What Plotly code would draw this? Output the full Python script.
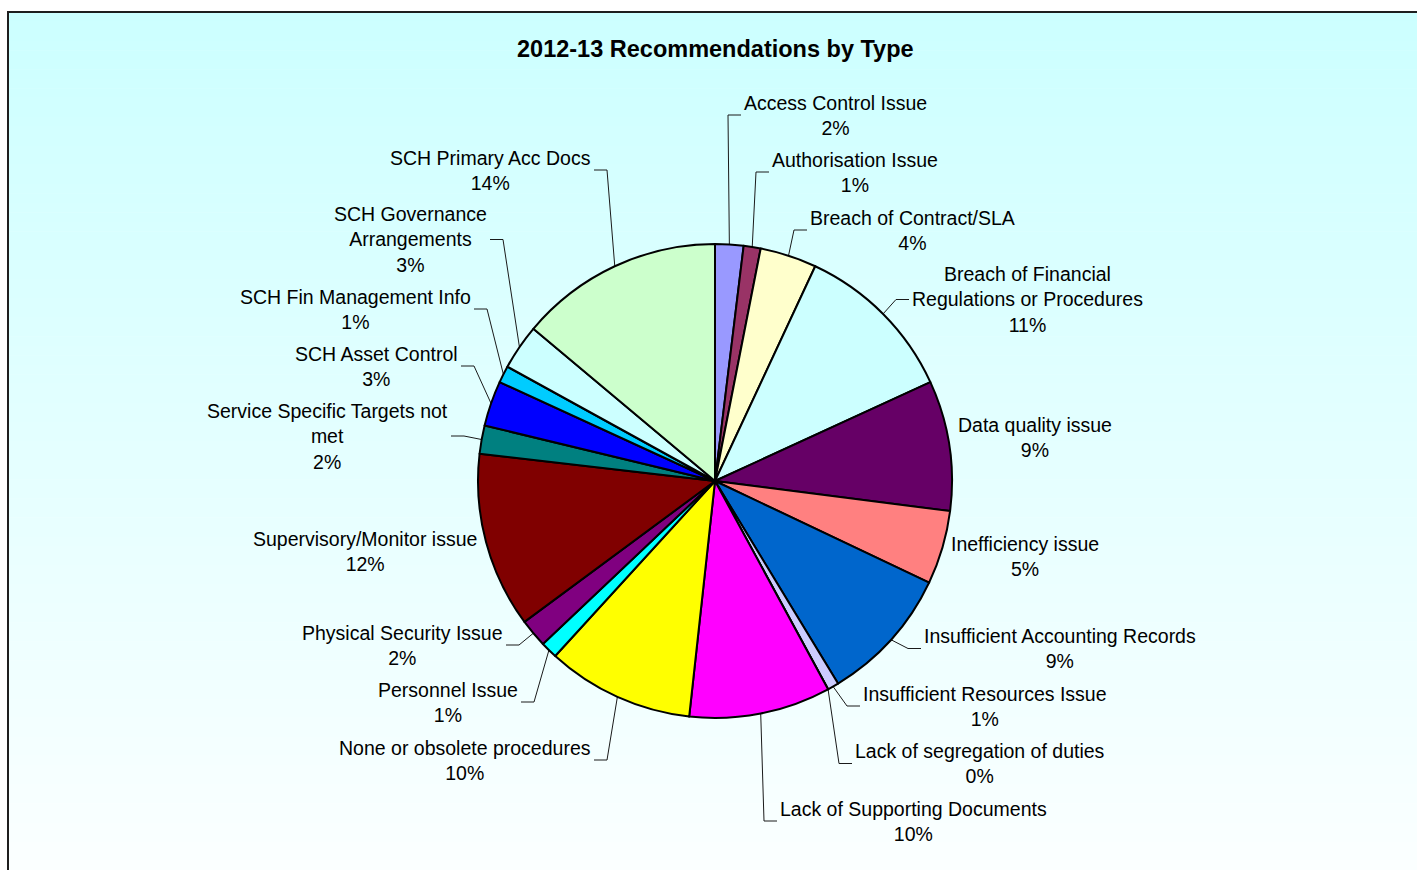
import plotly.graph_objects as go
import math

# ---- data ---------------------------------------------------------------
categories = [
    "Access Control Issue",
    "Authorisation Issue",
    "Breach of Contract/SLA",
    "Breach of Financial Regulations or Procedures",
    "Data quality issue",
    "Inefficiency issue",
    "Insufficient Accounting Records",
    "Insufficient Resources Issue",
    "Lack of segregation of duties",
    "Lack of Supporting Documents",
    "None or obsolete procedures",
    "Personnel Issue",
    "Physical Security Issue",
    "Supervisory/Monitor issue",
    "Service Specific Targets not met",
    "SCH Asset Control",
    "SCH Fin Management Info",
    "SCH Governance Arrangements",
    "SCH Primary Acc Docs",
]
counts = [5, 3, 10, 29, 23, 13, 24, 2, 0, 25, 26, 3, 5, 31, 5, 8, 3, 8, 36]

# wrapped names as printed beside each slice
label_lines = [
    "Access Control Issue",
    "Authorisation Issue",
    "Breach of Contract/SLA",
    "Breach of Financial<br>Regulations or Procedures",
    "Data quality issue",
    "Inefficiency issue",
    "Insufficient Accounting Records",
    "Insufficient Resources Issue",
    "Lack of segregation of duties",
    "Lack of Supporting Documents",
    "None or obsolete procedures",
    "Personnel Issue",
    "Physical Security Issue",
    "Supervisory/Monitor issue",
    "Service Specific Targets not<br>met",
    "SCH Asset Control",
    "SCH Fin Management Info",
    "SCH Governance<br>Arrangements",
    "SCH Primary Acc Docs",
]

slice_colors = [
    "#9999FF", "#993366", "#FFFFCC", "#CCFFFF", "#660066", "#FF8080",
    "#0066CC", "#CCCCFF", "#000080", "#FF00FF", "#FFFF00", "#00FFFF",
    "#800080", "#800000", "#008080", "#0000FF", "#00CCFF", "#CCFFFF",
    "#CCFFCC",
]

# ---- layout constants (pixels) -----------------------------------------
W, H = 1417, 870
CX, CY, R = 715, 481, 237          # pie centre and radius
FONT = "Arial, Liberation Sans, sans-serif"
LABEL_SIZE = 19.5

# label placement: (edge x, block centre y, side, draw leader)
# side "L": text starts at edge x (label sits right of the pie)
# side "R": text ends at edge x (label sits left of the pie)
label_place = [
    (744, 115, "L", True),
    (772, 172, "L", True),
    (810, 230, "L", True),
    (912, 299.5, "L", True),
    (958, 437.5, "L", False),
    (951, 556, "L", False),
    (924, 648.5, "L", True),
    (863, 706, "L", True),
    (855, 763.5, "L", True),
    (780, 821, "L", True),
    (591, 760, "R", True),
    (518, 702, "R", True),
    (503, 645, "R", True),
    (477, 551, "R", False),
    (448, 436, "R", True),
    (458, 366, "R", True),
    (471, 309, "R", True),
    (487, 239.5, "R", True),
    (591, 170, "R", True),
]

total = sum(counts)
percents = [f"{c / total:.0%}" for c in counts]

fig = go.Figure()

# leader lines: slice mid-angle on the rim -> elbow -> label edge
lx, ly = [], []
cum = 0
for c, (ex, ey, side, lead) in zip(counts, label_place):
    mid = (cum + c / 2) / total * 2 * math.pi
    cum += c
    if not lead:
        continue
    px = CX + R * math.sin(mid)
    py = CY - R * math.cos(mid)
    if side == "L":
        elbow, end = ex - 16, ex - 3
    else:
        elbow, end = ex + 16, ex + 3
    lx += [px, elbow, end, None]
    ly += [py, ey, ey, None]

fig.add_trace(go.Scatter(
    x=lx, y=ly, mode="lines",
    line=dict(color="#1a1a1a", width=1),
    hoverinfo="skip", showlegend=False,
))

fig.add_trace(go.Pie(
    labels=categories,
    values=counts,
    sort=False,
    direction="clockwise",
    rotation=0,
    textinfo="none",
    hovertemplate="%{label}<br>%{value} (%{percent})<extra></extra>",
    marker=dict(colors=slice_colors, line=dict(color="#000000", width=2)),
    showlegend=False,
    domain=dict(
        x=[(CX - R) / W, (CX + R) / W],
        y=[(H - CY - R) / H, (H - CY + R) / H],
    ),
))

# slice labels
annotations = []
for txt, pct, (ex, ey, side, lead) in zip(label_lines, percents, label_place):
    annotations.append(dict(
        x=ex, y=ey, xref="x", yref="y",
        text=f"{txt}<br>{pct}",
        showarrow=False,
        xanchor="left" if side == "L" else "right",
        yanchor="middle",
        align="center",
        borderpad=0, borderwidth=0,
        font=dict(family=FONT, size=LABEL_SIZE, color="#000000"),
    ))

# chart title
annotations.append(dict(
    x=CX, y=49, xref="x", yref="y",
    text="<b>2012-13 Recommendations by Type</b>",
    showarrow=False, xanchor="center", yanchor="middle",
    borderpad=0, borderwidth=0,
    font=dict(family=FONT, size=23.5, color="#000000"),
))

# chart-area background: pale cyan fading to white downwards
shapes = []
top, bottom = 12, H
bands = 90
c0 = (204, 255, 255)
c1 = (251, 255, 255)
for i in range(bands):
    y0 = top + (bottom - top) * i / bands
    y1 = top + (bottom - top) * (i + 1) / bands
    t = (i + 0.5) / bands
    col = tuple(round(a + (b - a) * t) for a, b in zip(c0, c1))
    shapes.append(dict(
        type="rect", xref="x", yref="y", x0=8, x1=W + 5, y0=y0, y1=y1 + 0.6,
        fillcolor=f"rgb{col}", line=dict(width=0), layer="below",
    ))
# chart-area border (left and top edges are in view)
shapes.append(dict(type="line", xref="x", yref="y", x0=8, x1=8, y0=11, y1=H + 5,
                   line=dict(color="#1e1e1e", width=2), layer="above"))
shapes.append(dict(type="line", xref="x", yref="y", x0=7, x1=W + 5, y0=12, y1=12,
                   line=dict(color="#1e1e1e", width=2), layer="above"))

fig.update_layout(
    width=W, height=H,
    margin=dict(l=0, r=0, t=0, b=0),
    paper_bgcolor="#FFFFFF",
    plot_bgcolor="rgba(0,0,0,0)",
    xaxis=dict(range=[0, W], visible=False, fixedrange=True, domain=[0, 1]),
    yaxis=dict(range=[H, 0], visible=False, fixedrange=True, domain=[0, 1]),
    annotations=annotations,
    shapes=shapes,
    font=dict(family=FONT),
)

fig.write_html("out.html")
